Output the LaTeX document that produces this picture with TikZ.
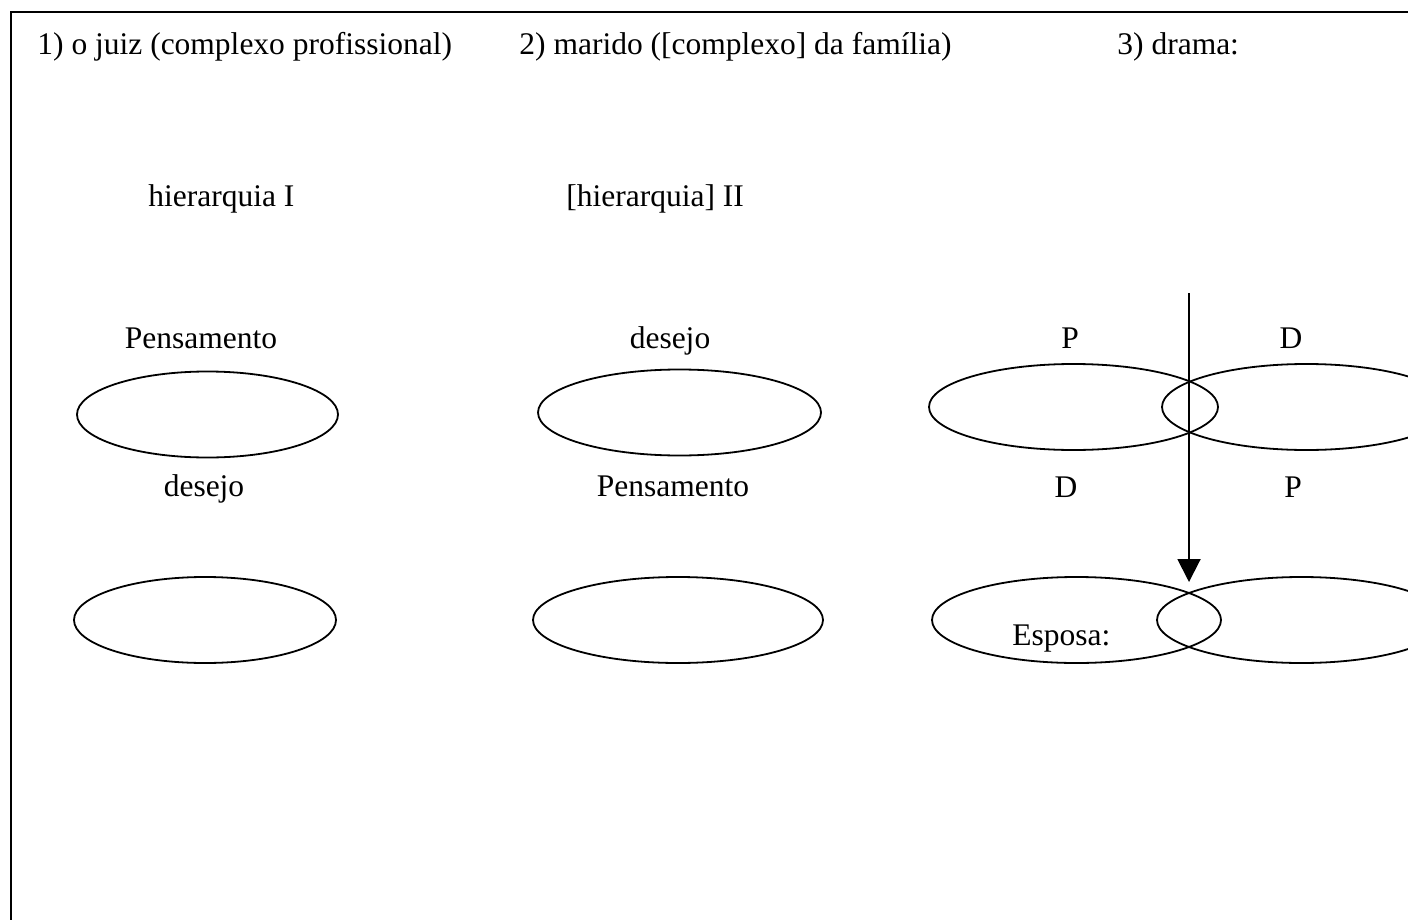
\documentclass[tikz,border=0pt]{standalone}
\usepackage{fontspec}
\setmainfont{Liberation Serif}
\usetikzlibrary{shapes.geometric,arrows.meta}
\tikzset{
	oval/.style={draw, ellipse, line width=0.9pt, minimum height=43pt, inner sep=0pt},
	lbl/.style={anchor=base, inner sep=0pt, font=\fontsize{15.75}{19}\selectfont},
	head/.style={anchor=base west, inner sep=0pt, font=\fontsize{15.75}{19}\selectfont}
}
\begin{document}
\begin{tikzpicture}[x=0.5pt, y=-0.5pt]
			\useasboundingbox (0,0) rectangle (1408,920);
			\draw[line width=1pt] (11,920) -- (11,12) -- (1408,12);
			% headings
			\node[head] (juiz) at (37,55) {1) o juiz (complexo profissional)};
			\node[head] (marido) at (519,55) {2) marido ([complexo] da família)};
			\node[head] (drama) at (1117,55) {3) drama:};
			\node[head] (hierI) at (148,206) {hierarquia I};
			\node[head] (hierII) at (566,206) {[hierarquia] II};
			% 1) juiz
			\node[lbl] (pensI) at (201,348) {Pensamento};
			\node[oval, minimum width=130.5pt] (ovalIa) at (207.5,414.5) {};
			\node[lbl] (desI) at (204,496) {desejo};
			\node[oval, minimum width=131pt] (ovalIb) at (205,620) {};
			% 2) marido
			\node[lbl] (desII) at (670,348) {desejo};
			\node[oval, minimum width=141.5pt] (ovalIIa) at (679.5,412.5) {};
			\node[lbl] (pensII) at (673,496) {Pensamento};
			\node[oval, minimum width=145pt] (ovalIIb) at (678,620) {};
			% 3) drama
			\node[lbl] (pA) at (1070,348) {P};
			\node[lbl] (dA) at (1291,348) {D};
			\node[oval, minimum width=144.5pt] (ovalPa) at (1073.5,407) {};
			\node[oval, minimum width=144.5pt] (ovalDa) at (1306.5,407) {};
			\node[lbl] (dB) at (1066,497) {D};
			\node[lbl] (pB) at (1293,497) {P};
			\node[oval, minimum width=144.5pt] (ovalPb) at (1076.5,620) {};
			\node[oval, minimum width=144.5pt] (ovalDb) at (1301.5,620) {};
			\node[head] (esposa) at (1012,645) {Esposa:};
			\coordinate (setaA) at (1189,293);
			\coordinate (setaB) at (1189,582);
			\draw[line width=1pt, -{Triangle[length=11.5pt, width=11.5pt]}] (setaA) -- (setaB);
		\end{tikzpicture}
\end{document}
